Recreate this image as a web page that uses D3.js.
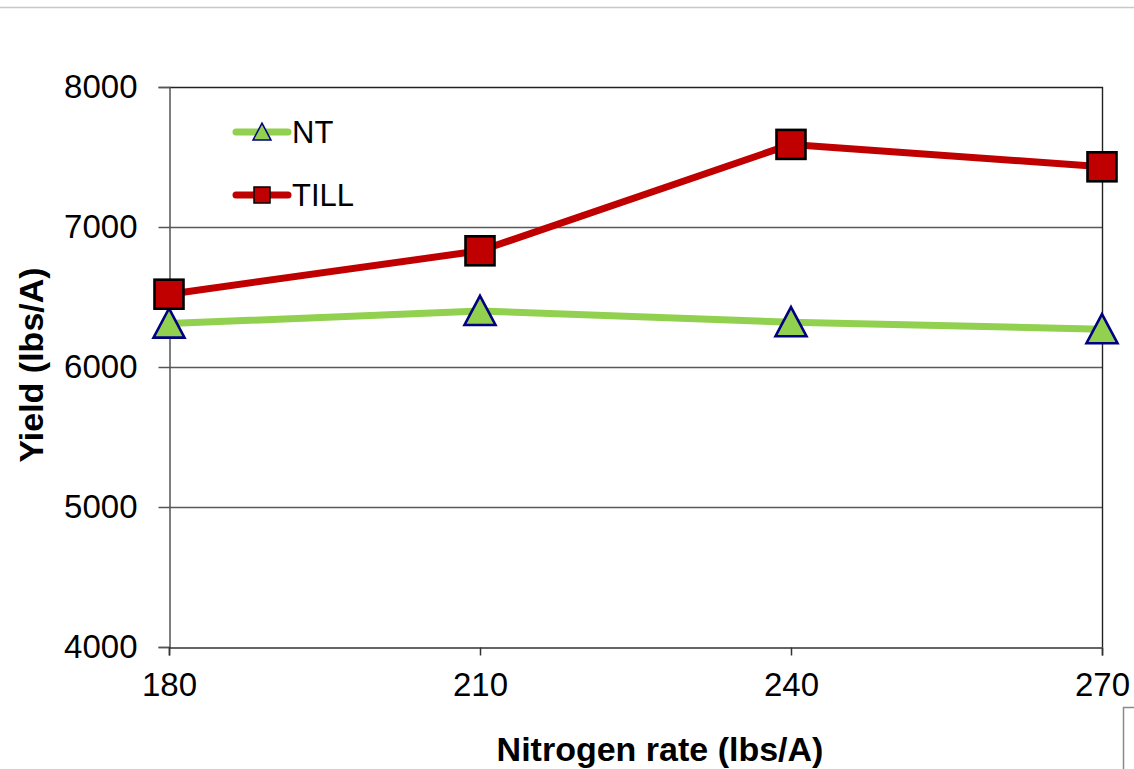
<!DOCTYPE html>
<html>
<head>
<meta charset="utf-8">
<script src="https://cdn.jsdelivr.net/npm/d3@7"></script>
<style>
  html, body { margin: 0; padding: 0; background: #fff; }
  svg { display: block; font-family: "Liberation Sans", Arial, sans-serif; }
</style>
</head>
<body>
<svg id="chart" width="1134" height="769"></svg>
<script>
// Nitrogen rate (lbs/A) on the x axis
const nitrogenRates = [180, 210, 240, 270];
// Yield (lbs/A) for each tillage system
const ntYield = [6310, 6400, 6320, 6270];
const tillYield = [6520, 6830, 7590, 7430];
const yTicks = [4000, 5000, 6000, 7000, 8000];
const seriesNames = ["NT", "TILL"];

const W = 1134, H = 769;
const plot = { left: 169, right: 1102, top: 87, bottom: 647 };

const svg = d3.select("#chart");

const x = d3.scaleLinear().domain([180, 270]).range([plot.left, plot.right]);
const y = d3.scaleLinear().domain([4000, 8000]).range([plot.bottom, plot.top]);

// thin rule across the top of the page
svg.append("line")
  .attr("x1", 0).attr("x2", W).attr("y1", 7.5).attr("y2", 7.5)
  .attr("stroke", "#c8c8c8").attr("stroke-width", 1.5);

// corner of a neighbouring frame, lower right
svg.append("path")
  .attr("d", "M1123.5,769 V707.5 H1134")
  .attr("fill", "none").attr("stroke", "#8a8a8a").attr("stroke-width", 1.5);

// horizontal gridlines
svg.append("g").selectAll("line")
  .data(yTicks.filter(d => d > 4000 && d < 8000))
  .join("line")
  .attr("x1", plot.left).attr("x2", plot.right)
  .attr("y1", d => Math.round(y(d)) + 0.5).attr("y2", d => Math.round(y(d)) + 0.5)
  .attr("stroke", "#5a5a5a").attr("stroke-width", 1.5);

// top and right frame
svg.append("path")
  .attr("d", `M${plot.left},${plot.top + 0.5} H${plot.right + 0.5} V${plot.bottom}`)
  .attr("fill", "none").attr("stroke", "#222").attr("stroke-width", 1.4);

// y axis
const yAxis = svg.append("g")
  .attr("transform", `translate(${plot.left + 0.5},0)`)
  .call(d3.axisLeft(y).tickValues(yTicks).tickSize(11).tickPadding(21).tickFormat(d3.format("d")));
yAxis.select(".domain").attr("stroke", "#555").attr("stroke-width", 1.5);
yAxis.selectAll(".tick line").attr("stroke", "#555").attr("stroke-width", 1.5);
yAxis.selectAll(".tick text")
  .attr("font-size", 33).attr("fill", "#000")
  .attr("font-family", "Liberation Sans, Arial, sans-serif");

// x axis
const xAxis = svg.append("g")
  .attr("transform", `translate(0,${plot.bottom + 0.5})`)
  .call(d3.axisBottom(x).tickValues(nitrogenRates).tickSize(8).tickPadding(17).tickFormat(d3.format("d")));
xAxis.select(".domain").attr("stroke", "#333").attr("stroke-width", 1.5);
xAxis.selectAll(".tick line").attr("stroke", "#333").attr("stroke-width", 1.5);
xAxis.selectAll(".tick text")
  .attr("font-size", 33).attr("fill", "#000")
  .attr("font-family", "Liberation Sans, Arial, sans-serif");

// axis titles
svg.append("text")
  .attr("transform", "translate(31,365) rotate(-90)")
  .attr("text-anchor", "middle").attr("dy", "0.36em")
  .attr("font-size", 34).attr("font-weight", "bold")
  .text("Yield (lbs/A)");

svg.append("text")
  .attr("x", 660).attr("y", 761)
  .attr("text-anchor", "middle")
  .attr("font-size", 34).attr("font-weight", "bold")
  .text("Nitrogen rate (lbs/A)");

const series = [
  { name: seriesNames[0], values: ntYield, line: "#92d050", fill: "#92d050", edge: "#000080", shape: "triangle" },
  { name: seriesNames[1], values: tillYield, line: "#c00000", fill: "#c00000", edge: "#000000", shape: "square" }
];

const lineGen = d3.line().x(d => x(d[0])).y(d => y(d[1]));

function marker(g, shape, size, fill, edge, sw) {
  if (shape === "square") {
    g.append("rect")
      .attr("x", -size / 2).attr("y", -size / 2)
      .attr("width", size).attr("height", size)
      .attr("fill", fill).attr("stroke", edge).attr("stroke-width", sw);
  } else {
    const h = size * 0.94;
    g.append("path")
      .attr("d", `M0,${-h * 0.52} L${size / 2},${h * 0.48} L${-size / 2},${h * 0.48} Z`)
      .attr("fill", fill).attr("stroke", edge).attr("stroke-width", sw)
      .attr("stroke-linejoin", "miter");
  }
}

// series lines
series.forEach(s => {
  const pts = nitrogenRates.map((r, i) => [r, s.values[i]]);
  svg.append("path")
    .datum(pts)
    .attr("d", lineGen)
    .attr("fill", "none")
    .attr("stroke", s.line).attr("stroke-width", 7)
    .attr("stroke-linejoin", "round");
});

// series markers
series.forEach(s => {
  nitrogenRates.forEach((r, i) => {
    const g = svg.append("g").attr("transform", `translate(${x(r)},${y(s.values[i])})`);
    marker(g, s.shape, s.shape === "square" ? 29 : 31, s.fill, s.edge, 2.6);
  });
});

// legend
const legendRows = [{ s: series[0], y: 132 }, { s: series[1], y: 195 }];
legendRows.forEach(row => {
  const g = svg.append("g");
  g.append("line")
    .attr("x1", 236).attr("x2", 288).attr("y1", row.y).attr("y2", row.y)
    .attr("stroke", row.s.line).attr("stroke-width", 7).attr("stroke-linecap", "round");
  const m = g.append("g").attr("transform", `translate(262,${row.y})`);
  marker(m, row.s.shape, row.s.shape === "square" ? 16 : 18, row.s.fill, row.s.edge, 1.5);
  g.append("text")
    .attr("x", 292).attr("y", row.y + 11)
    .attr("font-size", 31)
    .text(row.s.name);
});
</script>
</body>
</html>
